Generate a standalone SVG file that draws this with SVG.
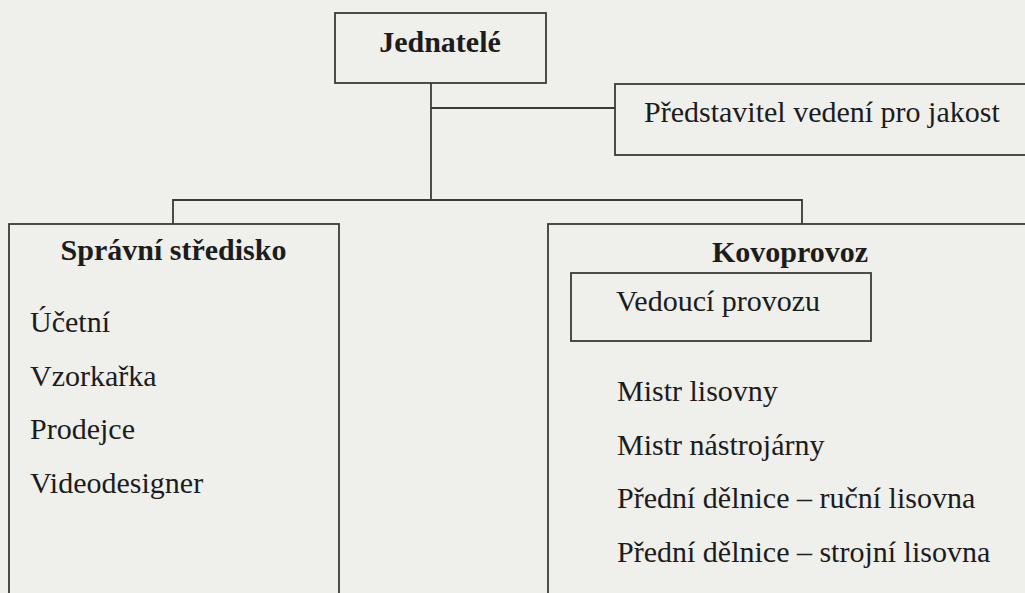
<svg xmlns="http://www.w3.org/2000/svg" width="1025" height="593" viewBox="0 0 1025 593">
<style>
.bg{fill:#efefeb}
.box{fill:none;stroke:#3a3a3a;stroke-width:1.8}
.con{fill:none;stroke:#3a3a3a;stroke-width:1.8}
text{font-family:"Liberation Serif","Times New Roman",serif;font-size:30px;fill:#1c1c1c}
.b{font-weight:bold}
</style>
<rect class="bg" x="0" y="0" width="1025" height="593"/>
<g id="connectors">
<path class="con" d="M431,83 V200"/>
<path class="con" d="M431,108 H615"/>
<path class="con" d="M173,224 V200 H802 V224"/>
</g>
<g id="jednatele">
<rect class="box" x="335" y="13" width="211" height="70"/>
<text class="b" x="440" y="52" text-anchor="middle">Jednatelé</text>
</g>
<g id="predstavitel">
<rect class="box" x="615" y="84" width="430" height="71"/>
<text x="644" y="122">Představitel vedení pro jakost</text>
</g>
<g id="spravni">
<rect class="box" x="9" y="224" width="330" height="400"/>
<text class="b" x="173.5" y="260" text-anchor="middle">Správní středisko</text>
<text x="30" y="332">Účetní</text>
<text x="30" y="386">Vzorkařka</text>
<text x="30" y="439">Prodejce</text>
<text x="30" y="493">Videodesigner</text>
</g>
<g id="kovoprovoz">
<rect class="box" x="548" y="224" width="500" height="400"/>
<text class="b" x="790" y="262" text-anchor="middle">Kovoprovoz</text>
<g id="vedouci">
<rect class="box" x="571" y="273" width="300" height="68"/>
<text x="616" y="311">Vedoucí provozu</text>
</g>
<text x="617" y="401">Mistr lisovny</text>
<text x="617" y="455">Mistr nástrojárny</text>
<text x="617" y="508">Přední dělnice – ruční lisovna</text>
<text x="617" y="562">Přední dělnice – strojní lisovna</text>
</g>
</svg>
